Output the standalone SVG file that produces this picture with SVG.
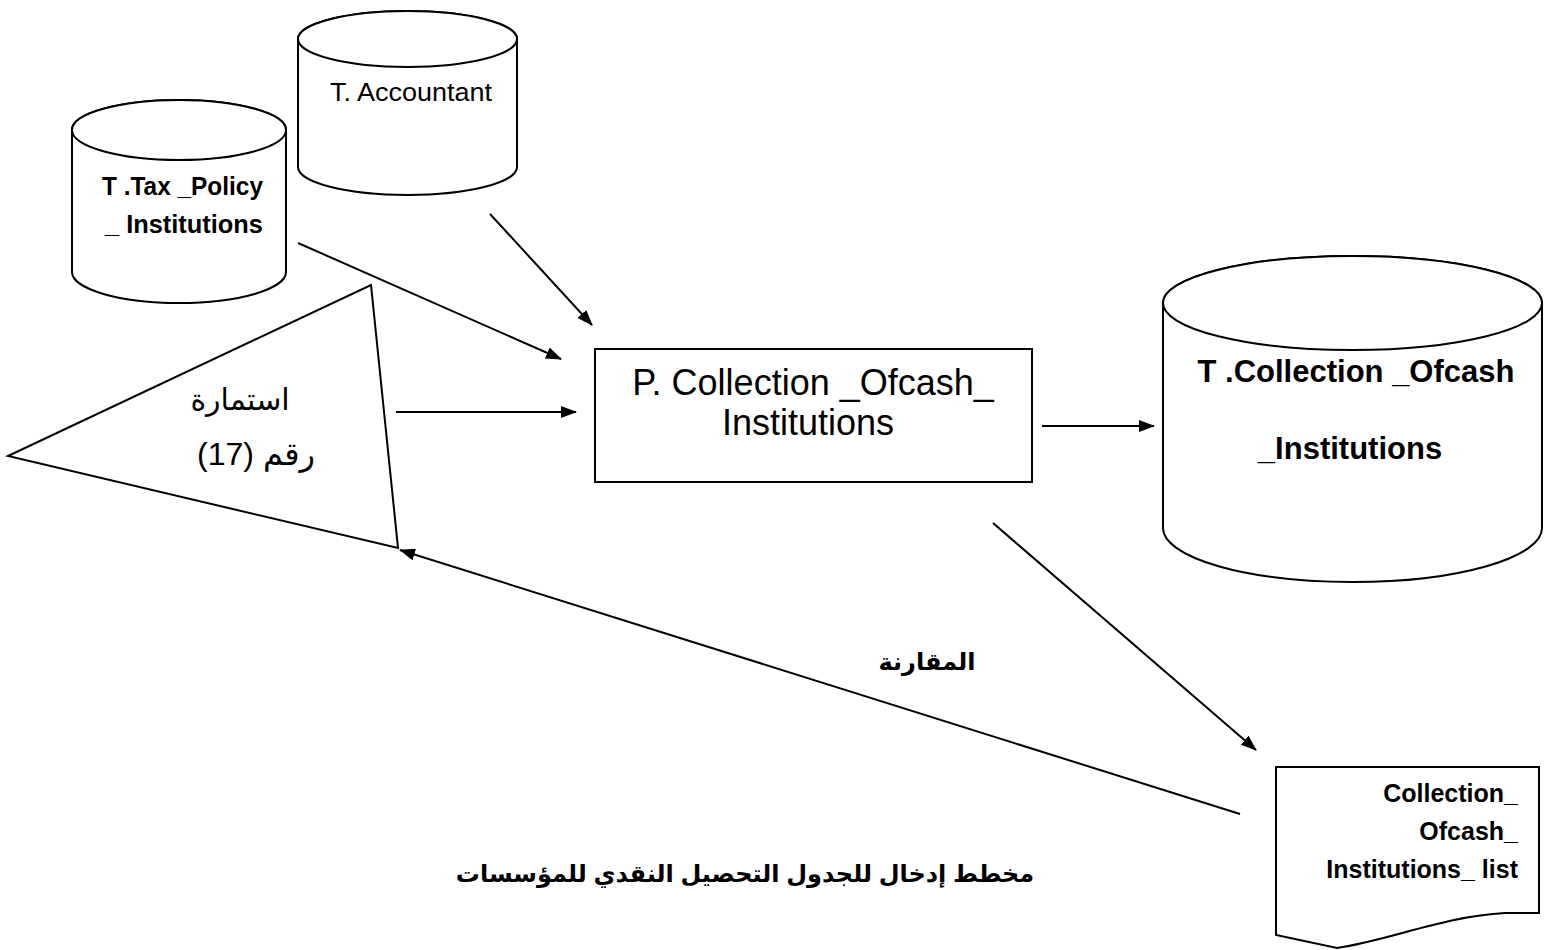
<svg xmlns="http://www.w3.org/2000/svg" width="1554" height="950" viewBox="0 0 1554 950">
<style>
.shape{fill:#fff;stroke:#000;stroke-width:2}
.conn{stroke:#000;stroke-width:2;fill:none;marker-end:url(#arr)}
.lat{font-family:"Liberation Sans","DejaVu Sans",sans-serif;fill:#000}
.b{font-weight:bold}
.ar{font-family:"Liberation Sans","DejaVu Sans",sans-serif;fill:#000}
</style>
<defs>
<marker id="arr" viewBox="0 0 16 12" refX="15" refY="6" markerWidth="16" markerHeight="12" markerUnits="userSpaceOnUse" orient="auto">
<path d="M0,0 L16,6 L0,12 Z" fill="#000"/>
</marker>
</defs>
<rect width="1554" height="950" fill="#fff"/>

<g id="tax_policy">
<path class="shape" d="M72,130 A107,30 0 0 1 286,130 V272 A107,31 0 0 1 72,272 Z"/>
<ellipse class="shape" cx="179" cy="130" rx="107" ry="30"/>
<text class="lat b" x="102" y="195" font-size="26" textLength="161" lengthAdjust="spacingAndGlyphs">T .Tax _Policy</text>
<text class="lat b" x="105" y="233" font-size="26" textLength="158" lengthAdjust="spacingAndGlyphs">_ Institutions</text>
</g>

<g id="accountant">
<path class="shape" d="M298,39 A109.5,28 0 0 1 517,39 V167 A109.5,28 0 0 1 298,167 Z"/>
<ellipse class="shape" cx="407.5" cy="39" rx="109.5" ry="28"/>
<text class="lat" x="330" y="101" font-size="26" textLength="162" lengthAdjust="spacingAndGlyphs">T. Accountant</text>
</g>

<g id="form17">
<polygon class="shape" points="8,456 371,285 398,548"/>
<text class="ar" x="240" y="410" font-size="30" text-anchor="middle" direction="rtl">استمارة</text>
<text class="ar" x="256" y="465" font-size="32" text-anchor="middle" direction="rtl">رقم (17)</text>
</g>

<g id="process">
<rect class="shape" x="595" y="349" width="437" height="133"/>
<text class="lat" x="813" y="395" font-size="36" text-anchor="middle">P. Collection _Ofcash_</text>
<text class="lat" x="808" y="435" font-size="36" text-anchor="middle">Institutions</text>
</g>

<g id="collection_table">
<path class="shape" d="M1163,303 A189.5,47 0 0 1 1542,303 V528 A189.5,54 0 0 1 1163,528 Z"/>
<ellipse class="shape" cx="1352.5" cy="303" rx="189.5" ry="47"/>
<text class="lat b" x="1356" y="382" font-size="31" text-anchor="middle">T .Collection _Ofcash</text>
<text class="lat b" x="1350" y="459" font-size="31" text-anchor="middle">_Institutions</text>
</g>

<g id="list_document">
<path class="shape" d="M1276,767 L1539,767 L1539,913 L1505,913 C1445,916 1390,940 1337,948 L1276,935 Z"/>
<text class="lat b" x="1518" y="802" font-size="25" text-anchor="end">Collection_</text>
<text class="lat b" x="1518" y="840" font-size="25" text-anchor="end">Ofcash_</text>
<text class="lat b" x="1518" y="878" font-size="25" text-anchor="end">Institutions_ list</text>
</g>

<g id="connectors">
<line class="conn" x1="490" y1="214" x2="592" y2="325"/>
<line class="conn" x1="298" y1="243" x2="561" y2="359"/>
<line class="conn" x1="396" y1="412" x2="576" y2="412"/>
<line class="conn" x1="1042" y1="426" x2="1154" y2="426"/>
<line class="conn" x1="993" y1="523" x2="1256" y2="750"/>
<line class="conn" x1="1240" y1="814" x2="400" y2="550"/>
</g>

<g id="labels">
<text class="ar b" x="927" y="670" font-size="24" text-anchor="middle" direction="rtl">المقارنة</text>
<text class="ar b" x="745" y="882" font-size="24" text-anchor="middle" direction="rtl">مخطط إدخال للجدول التحصيل النقدي للمؤسسات</text>
</g>
</svg>
